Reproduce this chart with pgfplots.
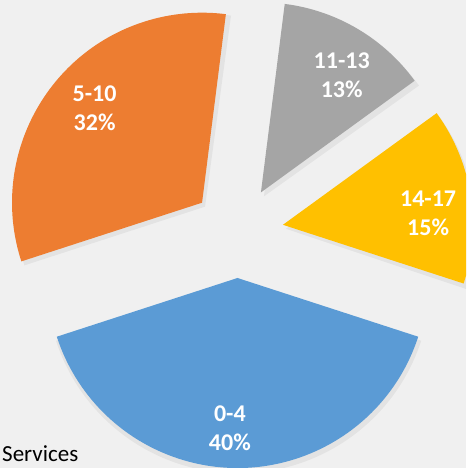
\documentclass[border=0pt]{standalone}
\usepackage{pgfplots}
\usepackage{pgfplotstable}
\pgfplotsset{compat=1.18}
\usepackage{fontspec}
\setmainfont{Carlito}
\definecolor{pie0}{HTML}{5B9BD5}
\definecolor{pie1}{HTML}{ED7D31}
\definecolor{pie2}{HTML}{A5A5A5}
\definecolor{pie3}{HTML}{FFC000}
\definecolor{bgc}{HTML}{F0F0F0}
\pgfplotstableread{
label value
0-4 40
5-10 32
11-13 13
14-17 15
}\piedata
\begin{document}
\begin{tikzpicture}
\path[use as bounding box, fill=bgc] (0,0) rectangle (466pt,468pt);
\clip (0,0) rectangle (466pt,468pt);
\def\piecum{0}
\pgfplotsforeachungrouped \i in {0,1,2,3}{%
  \pgfplotstablegetelem{\i}{value}\of\piedata \let\pieV=\pgfplotsretval
  \pgfplotstablegetelem{\i}{label}\of\piedata \let\pieL=\pgfplotsretval
  \pgfmathsetmacro\pieTs{108+3.6*\piecum}
  \pgfmathsetmacro\pieTe{\pieTs+3.6*\pieV}
  \pgfmathsetmacro\pieTm{(\pieTs+\pieTe)/2}
  \pgfmathsetmacro\pieAx{237.5+46*sin(\pieTm)}
  \pgfmathsetmacro\pieAy{236+46*cos(\pieTm)}
  \pgfmathsetmacro\pieSx{\pieAx+190*sin(\pieTs)}
  \pgfmathsetmacro\pieSy{\pieAy+190*cos(\pieTs)}
  \pgfmathsetmacro\pieLx{\pieAx+146*sin(\pieTm+3)}
  \pgfmathsetmacro\pieLy{\pieAy+146*cos(\pieTm+3)-4}
  \pgfmathsetmacro\pieSA{90-\pieTs}
  \pgfmathsetmacro\pieEA{90-\pieTe}
  \pgfmathsetmacro\piecum{\piecum+\pieV}
  \expandafter\xdef\csname pieAx\i\endcsname{\pieAx}
  \expandafter\xdef\csname pieAy\i\endcsname{\pieAy}
  \expandafter\xdef\csname pieSx\i\endcsname{\pieSx}
  \expandafter\xdef\csname pieSy\i\endcsname{\pieSy}
  \expandafter\xdef\csname pieLx\i\endcsname{\pieLx}
  \expandafter\xdef\csname pieLy\i\endcsname{\pieLy}
  \expandafter\xdef\csname pieSA\i\endcsname{\pieSA}
  \expandafter\xdef\csname pieEA\i\endcsname{\pieEA}
  \expandafter\xdef\csname pieLab\i\endcsname{\pieL}
  \expandafter\xdef\csname pieVal\i\endcsname{\pieV}
}
\begin{axis}[at={(0,0)}, anchor=origin, scale only axis, width=466pt, height=468pt,
  xmin=0, xmax=466, ymin=0, ymax=468, hide axis, clip=false]
\pgfplotsinvokeforeach{0,1,2,3}{%
  \edef\temp{\noexpand\fill[black,opacity=0.05] ([xshift=3pt,yshift=-4pt]axis cs:\csname pieAx#1\endcsname,\csname pieAy#1\endcsname) -- ([xshift=3pt,yshift=-4pt]axis cs:\csname pieSx#1\endcsname,\csname pieSy#1\endcsname) arc[start angle=\csname pieSA#1\endcsname, end angle=\csname pieEA#1\endcsname, radius=192pt] -- cycle;}\temp
}
\pgfplotsinvokeforeach{0,1,2,3}{%
  \edef\temp{\noexpand\fill[pie#1] (axis cs:\csname pieAx#1\endcsname,\csname pieAy#1\endcsname) -- (axis cs:\csname pieSx#1\endcsname,\csname pieSy#1\endcsname) arc[start angle=\csname pieSA#1\endcsname, end angle=\csname pieEA#1\endcsname, radius=190pt] -- cycle;}\temp
}
\pgfplotsinvokeforeach{0,1,2,3}{%
  \edef\temp{\noexpand\node[text=white, font=\noexpand\fontsize{24}{29}\noexpand\selectfont\noexpand\bfseries, align=center, inner sep=0pt] at (axis cs:\csname pieLx#1\endcsname,\csname pieLy#1\endcsname) {\csname pieLab#1\endcsname\noexpand\\\csname pieVal#1\endcsname\noexpand\%};}\temp
}
\node[anchor=base west, inner sep=0pt, font=\fontsize{23}{28}\selectfont] at (axis cs:2,6.3) {Services};
\end{axis}
\end{tikzpicture}
\end{document}
